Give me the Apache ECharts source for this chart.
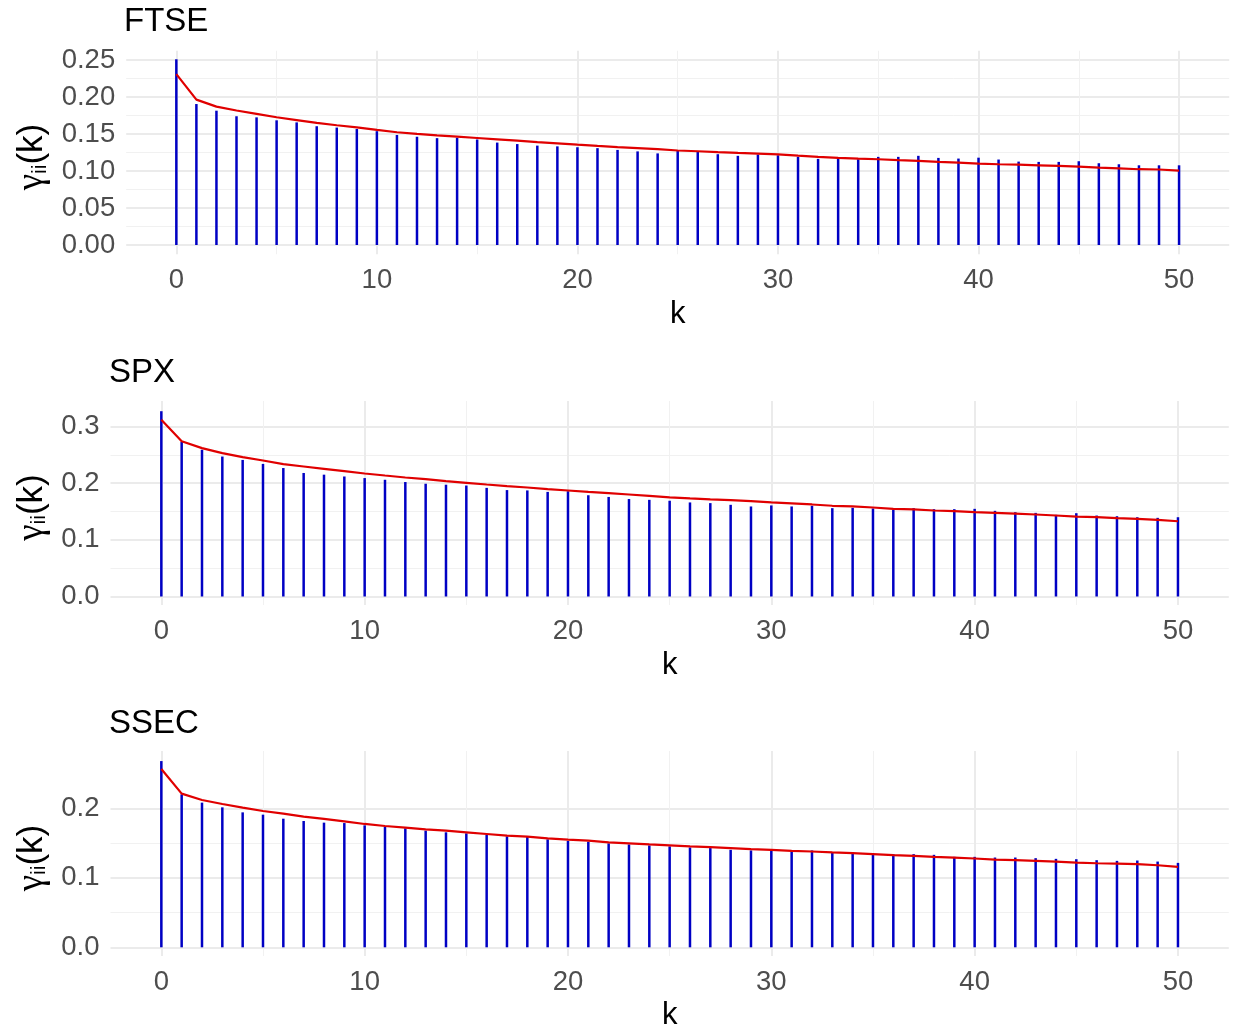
<!DOCTYPE html>
<html>
<head>
<meta charset="utf-8">
<title>Autocovariance by lag: FTSE, SPX, SSEC</title>
<script src="https://cdn.jsdelivr.net/npm/echarts@6.0.0/dist/echarts.min.js"></script>
<style>
  html, body { margin: 0; padding: 0; background: #ffffff; }
  #chart { width: 1233px; height: 1032px; }
</style>
</head>
<body>
<div id="chart"></div>
<script>
// Lags k = 0..50
const lags = [0, 1, 2, 3, 4, 5, 6, 7, 8, 9, 10, 11, 12, 13, 14, 15, 16, 17, 18, 19, 20,
  21, 22, 23, 24, 25, 26, 27, 28, 29, 30, 31, 32, 33, 34, 35, 36, 37, 38, 39, 40,
  41, 42, 43, 44, 45, 46, 47, 48, 49, 50];

// FTSE: sample autocovariance (stems) and fitted curve (line)
const ftseAcf = [0.251, 0.1905, 0.1815, 0.174, 0.1725, 0.1685, 0.1657, 0.1605, 0.1587, 0.1568,
  0.1538, 0.1487, 0.1463, 0.1444, 0.145, 0.1426, 0.1384, 0.1364, 0.1343, 0.1333,
  0.1321, 0.1309, 0.1285, 0.1265, 0.1238, 0.1272, 0.126, 0.1227, 0.1205, 0.1223,
  0.1212, 0.1191, 0.1164, 0.1164, 0.1159, 0.1191, 0.1191, 0.1205, 0.1177, 0.1168,
  0.118, 0.1155, 0.1127, 0.1123, 0.1123, 0.1132, 0.1105, 0.1091, 0.1077, 0.1077, 0.1077];
const ftseFit = [0.231, 0.1965, 0.187, 0.1818, 0.1772, 0.1726, 0.1688, 0.165, 0.1618, 0.159,
  0.1555, 0.1524, 0.1502, 0.1481, 0.1464, 0.1446, 0.1428, 0.141, 0.1391, 0.1374,
  0.1356, 0.1339, 0.1323, 0.131, 0.1295, 0.1277, 0.1267, 0.1255, 0.1245, 0.1236,
  0.1225, 0.1207, 0.1192, 0.1178, 0.1168, 0.1159, 0.1146, 0.1136, 0.1123, 0.1114,
  0.11, 0.1091, 0.1085, 0.1077, 0.1068, 0.1059, 0.1046, 0.1036, 0.1024, 0.102, 0.1005];

// SPX
const spxAcf = [0.327, 0.273, 0.259, 0.247, 0.241, 0.234, 0.2267, 0.218, 0.215, 0.2118,
  0.209, 0.206, 0.202, 0.199, 0.1973, 0.1958, 0.1917, 0.1878, 0.1872, 0.1846,
  0.1858, 0.1787, 0.1757, 0.172, 0.1706, 0.169, 0.166, 0.1648, 0.1618, 0.1589,
  0.1607, 0.1589, 0.1601, 0.1559, 0.1565, 0.1553, 0.153, 0.1559, 0.1541, 0.1541,
  0.1547, 0.1512, 0.1488, 0.1476, 0.1441, 0.147, 0.1429, 0.1417, 0.1399, 0.1388, 0.1399];
const spxFit = [0.312, 0.2741, 0.2618, 0.2529, 0.2459, 0.24, 0.2335, 0.2294, 0.2253, 0.2212,
  0.2171, 0.2135, 0.21, 0.207, 0.2035, 0.2006, 0.1976, 0.1947, 0.1924, 0.1894,
  0.1871, 0.1847, 0.1824, 0.18, 0.1775, 0.175, 0.1731, 0.1713, 0.1701, 0.1683,
  0.166, 0.1642, 0.1624, 0.1601, 0.1589, 0.1571, 0.1547, 0.1536, 0.1518, 0.1506,
  0.1488, 0.1476, 0.1464, 0.1447, 0.1429, 0.1411, 0.1399, 0.1382, 0.137, 0.1352, 0.1328];

// SSEC
const ssecAcf = [0.268, 0.2201, 0.2082, 0.2014, 0.1942, 0.1909, 0.1851, 0.1818, 0.1794, 0.1788,
  0.1755, 0.1731, 0.1712, 0.1679, 0.1655, 0.164, 0.1616, 0.1597, 0.1592, 0.1554,
  0.153, 0.152, 0.1496, 0.148, 0.1466, 0.1452, 0.1437, 0.1428, 0.1403, 0.1394,
  0.1413, 0.1379, 0.1394, 0.137, 0.137, 0.135, 0.1341, 0.1341, 0.1331, 0.1302,
  0.1302, 0.1292, 0.1292, 0.1283, 0.1273, 0.1268, 0.1254, 0.1244, 0.1249, 0.1234, 0.1215];
const ssecFit = [0.2566, 0.2211, 0.212, 0.2062, 0.201, 0.1962, 0.1923, 0.188, 0.1847, 0.1813,
  0.1775, 0.1746, 0.1722, 0.1698, 0.1679, 0.1655, 0.1631, 0.1607, 0.1592, 0.1568,
  0.1549, 0.1535, 0.1511, 0.1497, 0.148, 0.1466, 0.1452, 0.1442, 0.1428, 0.1413,
  0.1403, 0.1389, 0.1379, 0.1365, 0.1355, 0.1341, 0.1326, 0.1316, 0.1302, 0.1292,
  0.1278, 0.1263, 0.1254, 0.1244, 0.1234, 0.122, 0.121, 0.1205, 0.1196, 0.1181, 0.1157];

// Labelled axis breaks
const kTicks = [0, 10, 20, 30, 40, 50];
const ftseTicks = [0, 0.05, 0.10, 0.15, 0.20, 0.25];
const spxTicks = [0, 0.1, 0.2, 0.3];
const ssecTicks = [0, 0.1, 0.2];

const FONT = '"Liberation Sans", Arial, Helvetica, sans-serif';
const GREEK = '"Liberation Serif", "Times New Roman", serif';
const STEM = '#0000C4';
const FIT = '#E00000';
const GRID_MAJOR = '#EBEBEB';
const GRID_MINOR = '#F1F1F1';
const NONE = 'rgba(0,0,0,0)';

function near(a, b) { return Math.abs(a - b) < 1e-7; }

// One colour per axis tick: only breaks (major) or mid-breaks (minor) are visible.
function gridColors(range, ticks, kind) {
  const mids = ticks.slice(1).map((t, i) => (t + ticks[i]) / 2);
  const marks = kind === 'major' ? ticks : mids;
  const colour = kind === 'major' ? GRID_MAJOR : GRID_MINOR;
  const n = Math.round((range.max - range.min) / range.step);
  const out = [];
  for (let i = 0; i <= n; i++) {
    const v = range.min + i * range.step;
    out.push(marks.some(m => near(m, v)) ? colour : NONE);
  }
  return out;
}

function tickLabel(ticks, digits) {
  return function (v) {
    const t = ticks.find(x => near(x, v));
    return t === undefined ? '' : t.toFixed(digits);
  };
}

const kRange = { min: -2.5, max: 52.5, step: 2.5 };

const panels = [
  { title: 'FTSE', acf: ftseAcf, fit: ftseFit, yTicks: ftseTicks, digits: 2,
    yRange: { min: -0.0125, max: 0.2625, step: 0.0125 },
    grid: { left: 126.2, top: 50.75, width: 1103, height: 203.5 },
    titleLeft: 124, titleTop: 5, yNameGap: 73, xNameGap: 45 },
  { title: 'SPX', acf: spxAcf, fit: spxFit, yTicks: spxTicks, digits: 1,
    yRange: { min: -0.015, max: 0.345, step: 0.005 },
    grid: { left: 110.5, top: 401, width: 1118.3, height: 204 },
    titleLeft: 109, titleTop: 356.5, yNameGap: 58, xNameGap: 45 },
  { title: 'SSEC', acf: ssecAcf, fit: ssecFit, yTicks: ssecTicks, digits: 1,
    yRange: { min: -0.0125, max: 0.2825, step: 0.0025 },
    grid: { left: 110.5, top: 751, width: 1118.3, height: 205 },
    titleLeft: 109, titleTop: 707.5, yNameGap: 58, xNameGap: 44 }
];

const title = [], grid = [], xAxis = [], yAxis = [], series = [];

panels.forEach((p, i) => {
  title.push({
    text: p.title, left: p.titleLeft, top: p.titleTop, padding: 0,
    textStyle: { fontFamily: FONT, fontSize: 33, fontWeight: 'normal', color: '#000000', lineHeight: 33 }
  });
  grid.push(Object.assign({ containLabel: false, outerBoundsMode: 'none', show: false }, p.grid));

  const hidden = { axisLine: { show: false, onZero: false }, axisTick: { show: false } };

  // x axis carrying labels, title and major grid lines
  xAxis.push(Object.assign({
    type: 'value', gridIndex: i, position: 'bottom',
    min: kRange.min, max: kRange.max, interval: kRange.step,
    name: 'k', nameLocation: 'middle', nameGap: p.xNameGap,
    nameTextStyle: { fontFamily: FONT, fontSize: 31, color: '#000000', lineHeight: 31 },
    axisLabel: { margin: 12, fontFamily: FONT, fontSize: 27.5, color: '#4D4D4D',
      formatter: tickLabel(kTicks, 0), hideOverlap: false },
    splitLine: { show: true, lineStyle: { color: gridColors(kRange, kTicks, 'major'), width: 2 } }
  }, hidden));
  // x axis carrying the minor grid lines only
  xAxis.push(Object.assign({
    type: 'value', gridIndex: i, position: 'top',
    min: kRange.min, max: kRange.max, interval: kRange.step,
    axisLabel: { show: false },
    splitLine: { show: true, lineStyle: { color: gridColors(kRange, kTicks, 'minor'), width: 1 } }
  }, hidden));

  yAxis.push(Object.assign({
    type: 'value', gridIndex: i, position: 'left',
    min: p.yRange.min, max: p.yRange.max, interval: p.yRange.step,
    name: '{g|γ}{s|ii}{p|(k)}', nameLocation: 'middle', nameRotate: 90, nameGap: p.yNameGap,
    nameTextStyle: {
      fontFamily: FONT, color: '#000000', padding: [0, 9, 0, 0],
      rich: {
        g: { fontFamily: GREEK, fontSize: 37, color: '#000000', lineHeight: 36 },
        s: { fontFamily: FONT, fontSize: 21, color: '#000000', lineHeight: 14, verticalAlign: 'bottom' },
        p: { fontFamily: FONT, fontSize: 35, color: '#000000', lineHeight: 36 }
      }
    },
    axisLabel: { margin: 11, fontFamily: FONT, fontSize: 27.5, color: '#4D4D4D', padding: [9, 0, 0, 0],
      formatter: tickLabel(p.yTicks, p.digits), hideOverlap: false },
    splitLine: { show: true, lineStyle: { color: gridColors(p.yRange, p.yTicks, 'major'), width: 2 } }
  }, hidden));
  yAxis.push(Object.assign({
    type: 'value', gridIndex: i, position: 'right',
    min: p.yRange.min, max: p.yRange.max, interval: p.yRange.step,
    axisLabel: { show: false },
    splitLine: { show: true, lineStyle: { color: gridColors(p.yRange, p.yTicks, 'minor'), width: 1 } }
  }, hidden));

  series.push({
    name: p.title + ' autocovariance', type: 'bar',
    xAxisIndex: 2 * i, yAxisIndex: 2 * i,
    data: lags.map((k, j) => [k, p.acf[j]]),
    barWidth: 2.5, itemStyle: { color: STEM }, silent: true, z: 2
  });
  series.push({
    name: p.title + ' fitted', type: 'line',
    xAxisIndex: 2 * i, yAxisIndex: 2 * i,
    data: lags.map((k, j) => [k, p.fit[j]]),
    symbol: 'none', showSymbol: false,
    lineStyle: { color: FIT, width: 2.2 }, silent: true, z: 3
  });
});

const chart = echarts.init(document.getElementById('chart'), null, { renderer: 'canvas' });
chart.setOption({
  animation: false,
  backgroundColor: '#ffffff',
  textStyle: { fontFamily: FONT },
  title, grid, xAxis, yAxis, series
});
</script>
</body>
</html>
